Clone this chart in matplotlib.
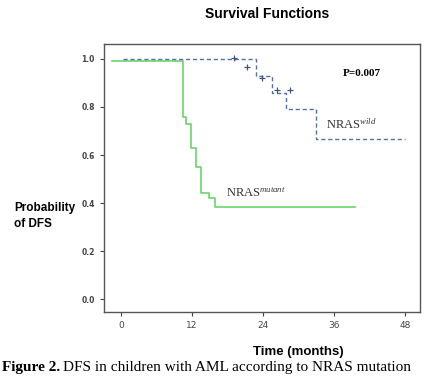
import matplotlib
matplotlib.use("Agg")
import matplotlib.pyplot as plt

plt.rcParams["mathtext.fontset"] = "custom"
plt.rcParams["mathtext.rm"] = "Liberation Serif"
plt.rcParams["mathtext.it"] = "Liberation Serif:italic"

# ----- data -----
mut_t = [-1.5, 10.4, 11.0, 11.8, 12.7, 13.5, 14.8, 15.9, 39.5]
mut_s = [0.99, 0.76, 0.73, 0.63, 0.55, 0.44, 0.42, 0.385, 0.385]

wild_t = [0.3, 22.8, 25.5, 27.8, 33.0, 48.0]
wild_s = [1.0, 0.93, 0.86, 0.79, 0.665, 0.665]

cens_t = [19.0, 21.3, 23.8, 26.3, 28.6]
cens_s = [1.005, 0.965, 0.92, 0.87, 0.87]

xticks = [0, 12, 24, 36, 48]
yticks = [0.0, 0.2, 0.4, 0.6, 0.8, 1.0]

fig = plt.figure(figsize=(4.28, 3.82), dpi=100)
ax = fig.add_axes([0.243, 0.183, 0.738, 0.702])

ax.step(mut_t, mut_s, where="post", color="#6ad66a", linewidth=1.2)
ax.step(wild_t, wild_s, where="post", color="#5570a8", linewidth=1.0,
        linestyle=(0, (3, 2)))
ax.plot(cens_t, cens_s, "+", color="#44557a", markersize=5, markeredgewidth=0.9)

ax.set_xlim(-2.9, 50.5)
ax.set_ylim(-0.054, 1.0625)
ax.set_xticks(xticks)
ax.set_yticks(yticks)
ax.set_xticklabels([str(v) for v in xticks], fontsize=6.5, color="#333333")
ax.set_yticklabels(["%.1f" % v for v in yticks], fontsize=5.5,
                   fontweight="bold", color="#222222")
ax.tick_params(direction="out", length=3, width=0.8, colors="#444444")
for s in ax.spines.values():
    s.set_color("#555555")
    s.set_linewidth(1.0)

ax.text(40.7, 0.9375, "P=0.007", fontsize=8, fontweight="bold",
        family="Liberation Serif", ha="center", va="center")
ax.text(34.6, 0.725, r"NRAS$^{\mathit{wild}}$", fontsize=9,
        family="Liberation Serif", color="#333333", ha="left", va="center")
ax.text(17.7, 0.44, r"NRAS$^{\mathit{mutant}}$", fontsize=9,
        family="Liberation Serif", color="#333333", ha="left", va="center")

fig.text(266.7 / 428, 1 - 14 / 382, "Survival Functions", fontsize=10,
         fontweight="bold", family="Liberation Sans", ha="center", va="center")
fig.text(14 / 428, 1 - 216 / 382, "Probability\nof DFS", fontsize=8.5,
         fontweight="bold", family="Liberation Sans", ha="left", va="center",
         linespacing=1.5)
fig.text(298 / 428, 1 - 352 / 382, "Time (months)", fontsize=9.5,
         fontweight="bold", family="Liberation Sans", ha="center", va="center")

# caption: bold lead-in followed by regular text
cap_bold = fig.text(2 / 428, 1 - 367 / 382, "Figure 2.", fontsize=11,
                    fontweight="bold", family="Liberation Serif",
                    ha="left", va="center")
fig.canvas.draw()
bb = cap_bold.get_window_extent()
fig.text(bb.x1 / 428 + 2.5 / 428, 1 - 367 / 382,
         "DFS in children with AML according to NRAS mutation",
         fontsize=11, family="Liberation Serif", ha="left", va="center")

fig.savefig("out.png", dpi=100)
